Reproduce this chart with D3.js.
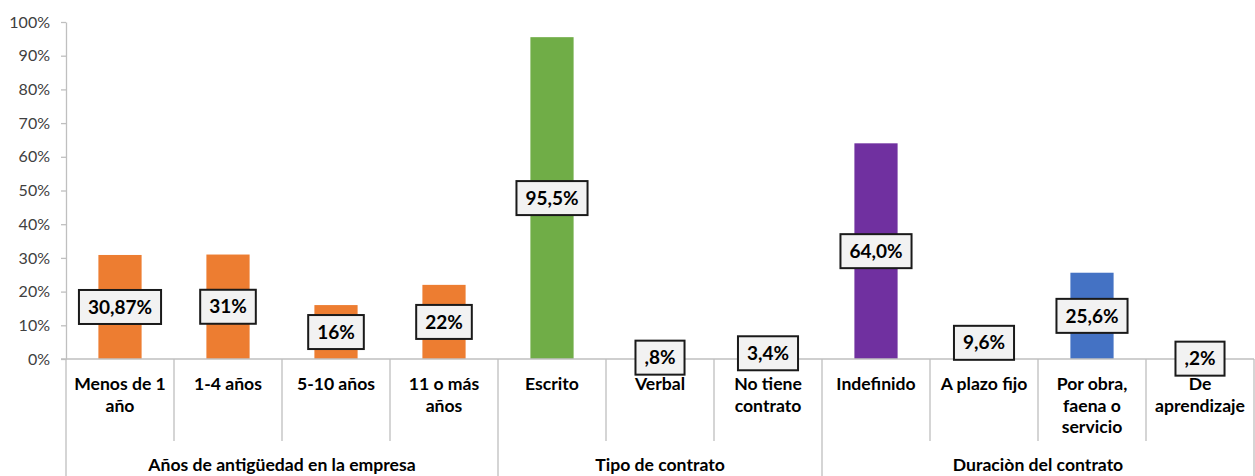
<!DOCTYPE html>
<html>
<head>
<meta charset="utf-8">
<script src="https://cdn.jsdelivr.net/npm/d3@7/dist/d3.min.js"></script>
<style>
  html, body { margin: 0; padding: 0; background: #ffffff; }
  svg { display: block; }
</style>
</head>
<body>
<svg id="chart" width="1255" height="476"></svg>
<script>
// Category names (line breaks mark where the label wraps)
const categories = [
  "Menos de 1\naño", "1-4 años", "5-10 años", "11 o más\naños",
  "Escrito", "Verbal", "No tiene\ncontrato",
  "Indefinido", "A plazo fijo", "Por obra,\nfaena o\nservicio", "De\naprendizaje"
];
// Percent values per category
const values = [30.87, 31, 16, 22, 95.5, 0.8, 3.4, 64.0, 9.6, 25.6, 0.2];
// Data labels as printed
const valueLabels = ["30,87%", "31%", "16%", "22%", "95,5%", ",8%", "3,4%", "64,0%", "9,6%", "25,6%", ",2%"];
// Group headings and how many categories each one spans
const groups = ["Años de antigüedad en la empresa", "Tipo de contrato", "Duraciòn del contrato"];
const groupSizes = [4, 3, 4];
// Bar fill per category
const barColors = [
  "#ED7D31", "#ED7D31", "#ED7D31", "#ED7D31",
  "#70AD47", "#70AD47", "#70AD47",
  "#7030A0", "#A5A5A5", "#4472C4", "#FFC000"
];
// Y-axis ticks
const yTicks = [0, 10, 20, 30, 40, 50, 60, 70, 80, 90, 100];

(function () {
  const svg = d3.select("#chart");
  const plotLeft = 66, plotRight = 1254, plotTop = 22, base = 359;
  const FONT = "Lato, 'Open Sans', sans-serif";
  const gridColor = "#BFBFBF";

  const x = d3.scaleBand()
    .domain(d3.range(categories.length))
    .range([plotLeft, plotRight])
    .paddingInner(0.6)
    .paddingOuter(0.3);
  const step = x.step();

  const y = d3.scaleLinear().domain([0, 100]).range([base, plotTop]);

  // Y axis
  const yAxis = svg.append("g")
    .attr("transform", `translate(${plotLeft},0)`)
    .call(d3.axisLeft(y).tickValues(yTicks).tickFormat(d => d + "%").tickSize(5).tickPadding(11).tickSizeOuter(0));
  yAxis.select(".domain").attr("stroke", gridColor).attr("stroke-width", 1.3);
  yAxis.selectAll(".tick line").attr("stroke", gridColor).attr("stroke-width", 1.3);
  yAxis.selectAll(".tick text")
    .attr("font-family", FONT)
    .attr("font-size", 16)
    .attr("fill", "#404040");

  // Bars
  svg.append("g").selectAll("rect")
    .data(values)
    .join("rect")
    .attr("x", (d, i) => x(i))
    .attr("width", x.bandwidth())
    .attr("y", d => y(d))
    .attr("height", d => base - y(d))
    .attr("fill", (d, i) => barColors[i]);

  // Category axis: baseline and separators
  const axisG = svg.append("g").attr("stroke", gridColor).attr("stroke-width", 1.3);
  axisG.append("line")
    .attr("x1", plotLeft - 5).attr("x2", plotRight)
    .attr("y1", base).attr("y2", base);

  const groupEdges = [0];
  groupSizes.forEach(s => groupEdges.push(groupEdges[groupEdges.length - 1] + s));
  for (let i = 0; i <= categories.length; i++) {
    const xx = plotLeft + i * step;
    const isGroupEdge = groupEdges.includes(i);
    axisG.append("line")
      .attr("x1", xx).attr("x2", xx)
      .attr("y1", base).attr("y2", isGroupEdge ? 476 : 441);
  }

  // Category labels
  const catG = svg.append("g")
    .attr("font-family", FONT)
    .attr("font-size", 17.6)
    .attr("font-weight", "bold")
    .attr("fill", "#000")
    .attr("text-anchor", "middle");
  categories.forEach((c, i) => {
    const cx = x(i) + x.bandwidth() / 2;
    const t = catG.append("text").attr("x", cx).attr("y", 390);
    c.split("\n").forEach((line, j) => {
      t.append("tspan")
        .attr("x", cx)
        .attr("dy", j === 0 ? 0 : 21.5)
        .text(line);
    });
  });

  // Group labels
  const grpG = svg.append("g")
    .attr("font-family", FONT)
    .attr("font-size", 17.6)
    .attr("font-weight", "bold")
    .attr("fill", "#000")
    .attr("text-anchor", "middle");
  groups.forEach((g, k) => {
    const x0 = plotLeft + groupEdges[k] * step;
    const x1 = plotLeft + groupEdges[k + 1] * step;
    grpG.append("text")
      .attr("x", (x0 + x1) / 2)
      .attr("y", 471)
      .text(g);
  });

  // Data labels in boxes, centred on each bar
  const lblG = svg.append("g");
  values.forEach((v, i) => {
    const cx = x(i) + x.bandwidth() / 2;
    const cy = (y(v) + base) / 2;
    const g = lblG.append("g");
    const rect = g.append("rect");
    const t = g.append("text")
      .attr("x", cx)
      .attr("y", cy)
      .attr("dy", "0.35em")
      .attr("text-anchor", "middle")
      .attr("font-family", FONT)
      .attr("font-size", 19)
      .attr("font-weight", "bold")
      .attr("fill", "#000")
      .text(valueLabels[i]);
    const bb = t.node().getBBox();
    const w = bb.width + 18, h = 34;
    rect.attr("x", cx - w / 2).attr("y", cy - h / 2)
      .attr("width", w).attr("height", h)
      .attr("fill", "#F2F2F2")
      .attr("stroke", "#1a1a1a")
      .attr("stroke-width", 2);
  });
})();
</script>
</body>
</html>
